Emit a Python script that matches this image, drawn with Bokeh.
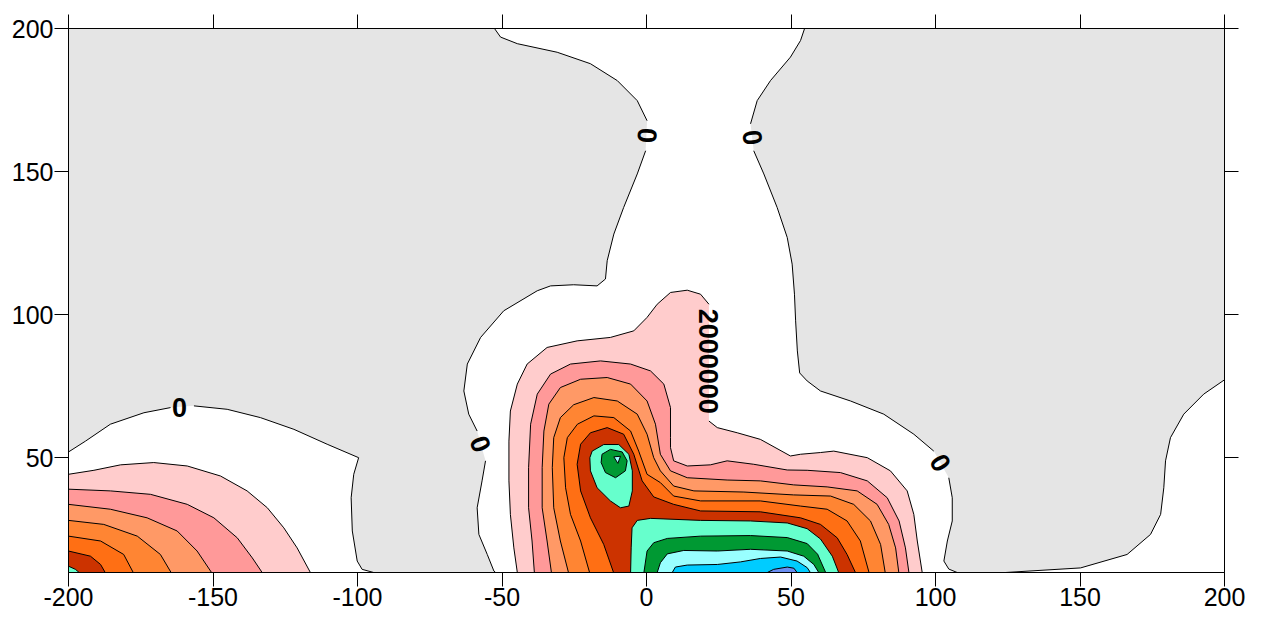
from bokeh.plotting import figure
from bokeh.models import FixedTicker, LinearAxis, Range1d
from bokeh.core.properties import value
from bokeh.embed import file_html
from bokeh.resources import INLINE

# ---------------- axes ----------------
X_TICKS = [-200, -150, -100, -50, 0, 50, 100, 150, 200]
X_TICK_LABELS = ["-200", "-150", "-100", "-50", "0", "50", "100", "150", "200"]
Y_TICKS = [50, 100, 150, 200]
Y_TICK_LABELS = ["50", "100", "150", "200"]
X_MIN, X_MAX, Y_MIN, Y_MAX = -200, 200, 10, 200

# ---------------- contour levels / colours ----------------
NEG_COLOR = "#E5E5E5"          # < 0
LEVEL_COLORS = {
    "0": "#FFFFFF",
    "2e6": "#FFCCCC",
    "4e6": "#FF9999",
    "6e6": "#FF9966",
    "8e6": "#FF8533",
    "10e6": "#FF6F14",
    "12e6": "#CC3300",
    "14e6": "#66FFCC",
    "16e6": "#009933",
    "18e6": "#99FFFF",
    "20e6": "#00CCFF",
    "22e6": "#6A8EF2",
}

# ---------------- contour curves (data units) ----------------
# level 0, left lobe (split at its label)
zero_left_a_x = [-200, -194.1, -185.5, -173.9, -164.7]
zero_left_a_y = [52.1, 55.9, 61.8, 65.8, 67.6]
zero_left_b_x = [-156.6, -145.1, -133.6, -122.0, -110.5, -99.6, -101.3, -102.2, -101.8, -100.1, -98.4, -94.4]
zero_left_b_y = [68.2, 67.0, 64.1, 60.0, 54.8, 50.1, 44.3, 36.1, 24.5, 14.0, 11.1, 10]

# level 0, centre channel, west side (top -> bottom, 3 pieces)
zero_cw_a_x = [-52.6, -50.5, -44.7, -30.9, -19.4, -10.1, -3.2, 0.2]
zero_cw_a_y = [200, 197.0, 194.7, 191.7, 187.7, 181.8, 174.8, 167.8]
zero_cw_b_x = [-0.3, -3.2, -7.9, -11.3, -13.6, -14.2, -17.1, -25.2, -33.2, -37.8, -49.4, -57.4, -62.0, -63.2, -61.5, -58.6]
zero_cw_b_y = [157.3, 149.2, 137.5, 128.2, 118.9, 112.5, 110.1, 110.5, 110.1, 108.4, 101.4, 92.1, 82.8, 73.4, 65.3, 59.4]
zero_cw_c_x = [-55.7, -56.9, -58.6, -58.0, -55.1, -52.8, -52.2]
zero_cw_c_y = [49.0, 42.0, 32.6, 23.3, 16.3, 10.5, 10]

# level 0, centre channel, east side (top -> bottom, 3 pieces)
zero_ce_a_x = [54.7, 53.3, 49.8, 42.9, 38.3, 36.0]
zero_ce_a_y = [200, 195.8, 190.0, 181.8, 174.8, 166.7]
zero_ce_b_x = [37.1, 40.6, 45.2, 48.7, 50.4, 51.2, 51.6, 52.2, 53.0, 55.6, 60.2, 70.6, 82.1, 92.5, 99.4]
zero_ce_b_y = [157.3, 149.2, 137.5, 127.0, 117.7, 107.2, 97.9, 87.4, 79.7, 76.9, 73.4, 69.9, 65.3, 58.3, 52.4]
zero_ce_c_x = [104.6, 105.8, 105.8, 104.1, 102.9, 104.6, 107.5]
zero_ce_c_y = [43.1, 36.1, 28.0, 21.0, 14.0, 11.2, 10]

# level 0, bottom-right corner
zero_right_x = [124.2, 150.2, 166.3, 174.4, 177.9, 179.0, 179.6, 181.3, 185.9, 192.8, 200]
zero_right_y = [10, 11.6, 16.3, 23.3, 30.3, 39.6, 49.0, 57.1, 65.3, 72.3, 77.3]

# left lobe, higher levels (left edge -> bottom edge)
left_2e6_x = [-200, -191.2, -182.0, -170.5, -158.9, -147.4, -138.2, -131.2, -125.5, -120.9, -116.3]
left_2e6_y = [44.3, 45.7, 47.6, 48.4, 47.2, 43.7, 38.5, 32.6, 25.6, 18.6, 10]
left_4e6_x = [-200, -185.5, -171.6, -158.9, -149.7, -141.6, -136.4, -133.0]
left_4e6_y = [39.1, 38.5, 37.3, 33.8, 29.1, 22.1, 15.1, 10]
left_6e6_x = [-200, -185.5, -172.8, -162.4, -155.5, -150.5]
left_6e6_y = [33.8, 32.1, 29.1, 24.5, 17.5, 10]
left_8e6_x = [-200, -187.8, -176.2, -168.2, -164.5]
left_8e6_y = [28.2, 26.8, 22.7, 16.3, 10]
left_10e6_x = [-200, -188.9, -180.9, -177.6]
left_10e6_y = [22.7, 21.0, 16.3, 10]
left_12e6_x = [-200, -192.4, -188.9, -187.3]
left_12e6_y = [17.5, 15.7, 12.8, 10]
left_14e6_x = [-200, -197.6, -196.3]
left_14e6_y = [12.2, 11.1, 10]

# centre lobe (bottom -> over -> bottom)
cen_2e6_a_x = [-44.7, -45.9, -47.1, -47.6, -47.6, -47.1, -44.7, -41.3, -34.4, -24.0, -12.5, -4.4, 0.2, 3.7, 8.3, 14.1, 18.7, 21.6]
cen_2e6_a_y = [10, 18.6, 30.3, 42.0, 55.9, 66.4, 75.8, 82.8, 88.6, 90.9, 92.1, 94.4, 99.1, 103.7, 107.8, 108.6, 107.2, 103.7]
cen_2e6_b_x = [21.6, 24.5, 31.4, 39.4, 49.8, 53.3, 60.2, 64.8, 76.4, 84.4, 90.2, 92.5, 93.7, 95.4]
cen_2e6_b_y = [62.9, 60.6, 58.8, 56.5, 50.7, 51.3, 51.9, 52.4, 50.1, 45.5, 38.5, 30.3, 21.0, 10]
cen_4e6_x = [-38.8, -39.6, -40.8, -40.8, -40.1, -37.8, -33.2, -26.3, -15.9, -5.5, 1.4, 6.0, 8.3, 8.3, 8.3, 9.4, 14.1, 22.1, 27.9, 37.1, 48.7, 55.6, 67.1, 76.4, 83.3, 87.4, 89.6, 90.8]
cen_4e6_y = [10, 21.0, 32.6, 46.6, 61.8, 72.3, 79.3, 82.8, 83.9, 82.8, 80.4, 75.8, 67.6, 57.1, 53.6, 49.0, 47.2, 47.6, 49.0, 47.8, 45.8, 45.7, 44.9, 42.0, 36.1, 28.0, 18.6, 10]
cen_6e6_x = [-32.9, -34.4, -36.1, -36.1, -35.5, -33.8, -29.8, -22.8, -13.6, -5.5, 0.2, 3.1, 4.8, 8.3, 14.1, 27.9, 39.4, 50.9, 62.5, 72.9, 79.8, 83.8, 86.2, 87.3]
cen_6e6_y = [10, 21.0, 32.6, 46.6, 59.4, 68.8, 74.6, 77.5, 78.1, 75.8, 69.9, 61.8, 51.3, 45.5, 43.1, 42.3, 42.0, 40.6, 39.9, 38.5, 33.8, 26.8, 18.6, 10]
cen_8e6_x = [-27.0, -29.8, -32.1, -32.6, -32.1, -29.8, -25.2, -18.2, -10.1, -3.2, 0.2, 2.5, 4.8, 9.4, 16.4, 33.7, 50.9, 63.7, 71.7, 77.5, 81.0, 82.6]
cen_8e6_y = [10, 21.0, 32.6, 46.6, 57.1, 64.1, 68.6, 71.1, 69.9, 65.3, 58.3, 50.1, 45.5, 40.2, 38.5, 38.1, 37.1, 36.7, 33.8, 28.0, 19.8, 10]
cen_10e6_x = [-19.7, -22.8, -26.3, -28.0, -28.6, -27.4, -23.9, -18.2, -11.3, -5.5, -2.7, 0.2, 4.8, 9.4, 18.7, 39.4, 53.3, 62.5, 69.4, 74.0, 77.0]
cen_10e6_y = [10, 21.0, 30.3, 39.6, 50.1, 57.1, 61.8, 64.7, 64.1, 59.4, 52.4, 44.3, 41.4, 36.7, 35.0, 35.0, 33.2, 32.1, 28.0, 21.0, 10]
cen_12e6_x = [-11.4, -14.8, -19.4, -22.8, -24.0, -22.8, -19.4, -13.6, -7.9, -4.4, -1.5, 2.5, 9.4, 18.7, 39.4, 53.3, 60.2, 66.0, 69.4, 72.3]
cen_12e6_y = [10, 19.8, 29.1, 38.5, 47.8, 54.8, 58.8, 60.6, 58.3, 51.3, 42.0, 36.4, 33.8, 31.5, 31.2, 29.1, 26.8, 22.1, 16.3, 10]
cen_14e6_x = [-5.5, -5.3, -5.0, -3.2, 1.4, 18.7, 36.0, 48.7, 55.6, 60.2, 64.3, 66.5]
cen_14e6_y = [10, 18.6, 25.6, 28.2, 28.9, 28.2, 28.0, 27.3, 25.3, 21.7, 15.7, 10]
cen_16e6_x = [-0.9, 0.2, 2.5, 7.2, 18.7, 36.0, 48.7, 55.6, 59.2, 62.0]
cen_16e6_y = [10, 17.5, 20.4, 21.9, 22.7, 22.9, 22.2, 20.1, 16.4, 10]
cen_18e6_x = [3.7, 4.8, 7.2, 12.9, 24.5, 36.0, 48.7, 54.4, 57.9, 59.6]
cen_18e6_y = [10, 13.4, 16.5, 17.7, 17.5, 18.1, 17.5, 15.7, 12.8, 10]
cen_20e6_x = [8.9, 10.0, 14.1, 24.5, 32.5, 39.4, 46.4, 52.1, 55.6, 56.7]
cen_20e6_y = [10, 11.9, 12.6, 12.8, 13.7, 14.9, 15.4, 14.0, 11.7, 10]
cen_22e6_x = [41.8, 44.0, 48.7, 51.0, 52.1]
cen_22e6_y = [10, 11.1, 11.9, 11.5, 10]

# closed island around the secondary maximum
isl_14e6_x = [-18.8, -14.8, -9.6, -6.1, -4.9, -4.9, -6.1, -9.0, -12.5, -17.1, -19.4, -19.6]
isl_14e6_y = [52.4, 54.7, 54.7, 51.3, 45.5, 38.5, 33.2, 32.6, 35.0, 39.6, 45.5, 50.1]
isl_16e6_x = [-15.4, -12.5, -8.4, -6.7, -7.3, -10.7, -14.2, -15.7]
isl_16e6_y = [51.3, 53.0, 52.1, 49.0, 45.5, 43.1, 44.9, 48.4]
isl_18e6_x = [-11.3, -9.0, -9.9]
isl_18e6_y = [50.4, 50.6, 48.1]

# contour labels
label_text = ["0", "0", "0", "0", "0", "2000000"]
label_x = [-161.6, -57.4, 0.3, 36.7, 101.7, 21.4]
label_y = [67.8, 54.9, 162.6, 161.9, 48.3, 83.8]
label_angle = [0, -70, -93, -83, -60, -90]

# ---------------- figure ----------------
p = figure(frame_width=1156, frame_height=544,
           x_range=Range1d(X_MIN, X_MAX), y_range=Range1d(Y_MIN, Y_MAX),
           output_backend="svg", toolbar_location=None,
           x_axis_location=None, y_axis_location=None,
           min_border_left=68, min_border_right=30, min_border_top=28, min_border_bottom=40)
p.background_fill_color = NEG_COLOR
p.border_fill_color = "white"
p.outline_line_color = "black"
p.outline_line_width = 1
p.grid.visible = False


def make_axis(ticks, labels, show):
    ax = LinearAxis(ticker=FixedTicker(ticks=ticks, minor_ticks=[]))
    ax.major_tick_out = 14
    ax.major_tick_in = 0
    ax.minor_tick_out = 0
    ax.minor_tick_in = 0
    ax.axis_line_color = "black"
    ax.major_tick_line_color = "black"
    ax.major_label_text_font = "Liberation Sans"
    ax.major_label_text_font_size = "25px"
    ax.major_label_text_color = "black"
    if show:
        ax.major_label_overrides = {t: s for t, s in zip(ticks, labels)}
        ax.major_label_standoff = 1
    else:
        ax.major_label_overrides = {t: "" for t in ticks}
        ax.major_label_standoff = 0
    return ax


p.add_layout(make_axis(X_TICKS, X_TICK_LABELS, True), "below")
p.add_layout(make_axis(Y_TICKS, Y_TICK_LABELS, True), "left")
p.add_layout(make_axis(X_TICKS, X_TICK_LABELS, False), "above")
p.add_layout(make_axis(Y_TICKS, Y_TICK_LABELS, False), "right")

# ---------------- fills (painted from lowest to highest level) ----------------
fills = []
# level 0 (white) regions
fills.append((zero_left_a_x + zero_left_b_x + [X_MIN], zero_left_a_y + zero_left_b_y + [Y_MIN], LEVEL_COLORS["0"]))
cw_x = zero_cw_a_x + zero_cw_b_x + zero_cw_c_x
cw_y = zero_cw_a_y + zero_cw_b_y + zero_cw_c_y
ce_x = zero_ce_a_x + zero_ce_b_x + zero_ce_c_x
ce_y = zero_ce_a_y + zero_ce_b_y + zero_ce_c_y
fills.append((cw_x + ce_x[::-1], cw_y + ce_y[::-1], LEVEL_COLORS["0"]))
fills.append((zero_right_x + [X_MAX], zero_right_y + [Y_MIN], LEVEL_COLORS["0"]))

left_levels = [("2e6", left_2e6_x, left_2e6_y), ("4e6", left_4e6_x, left_4e6_y),
               ("6e6", left_6e6_x, left_6e6_y), ("8e6", left_8e6_x, left_8e6_y),
               ("10e6", left_10e6_x, left_10e6_y), ("12e6", left_12e6_x, left_12e6_y),
               ("14e6", left_14e6_x, left_14e6_y)]
cen_levels = [("2e6", cen_2e6_a_x + cen_2e6_b_x, cen_2e6_a_y + cen_2e6_b_y),
              ("4e6", cen_4e6_x, cen_4e6_y), ("6e6", cen_6e6_x, cen_6e6_y),
              ("8e6", cen_8e6_x, cen_8e6_y), ("10e6", cen_10e6_x, cen_10e6_y),
              ("12e6", cen_12e6_x, cen_12e6_y), ("14e6", cen_14e6_x, cen_14e6_y),
              ("16e6", cen_16e6_x, cen_16e6_y), ("18e6", cen_18e6_x, cen_18e6_y),
              ("20e6", cen_20e6_x, cen_20e6_y), ("22e6", cen_22e6_x, cen_22e6_y)]
for lev, xs, ys in left_levels:
    fills.append((xs + [X_MIN], ys + [Y_MIN], LEVEL_COLORS[lev]))
for lev, xs, ys in cen_levels:
    fills.append((xs, ys, LEVEL_COLORS[lev]))
for lev, xs, ys in [("14e6", isl_14e6_x, isl_14e6_y), ("16e6", isl_16e6_x, isl_16e6_y),
                    ("18e6", isl_18e6_x, isl_18e6_y)]:
    fills.append((xs, ys, LEVEL_COLORS[lev]))

p.patches(xs=[f[0] for f in fills], ys=[f[1] for f in fills],
          fill_color=[f[2] for f in fills], line_color=None)

# ---------------- contour lines ----------------
line_x = [zero_left_a_x, zero_left_b_x, zero_cw_a_x, zero_cw_b_x, zero_cw_c_x,
          zero_ce_a_x, zero_ce_b_x, zero_ce_c_x, zero_right_x,
          cen_2e6_a_x, cen_2e6_b_x]
line_y = [zero_left_a_y, zero_left_b_y, zero_cw_a_y, zero_cw_b_y, zero_cw_c_y,
          zero_ce_a_y, zero_ce_b_y, zero_ce_c_y, zero_right_y,
          cen_2e6_a_y, cen_2e6_b_y]
for lev, xs, ys in left_levels:
    line_x.append(xs)
    line_y.append(ys)
for lev, xs, ys in cen_levels[1:]:
    line_x.append(xs)
    line_y.append(ys)
for xs, ys in [(isl_14e6_x, isl_14e6_y), (isl_16e6_x, isl_16e6_y), (isl_18e6_x, isl_18e6_y)]:
    line_x.append(xs + xs[:1])
    line_y.append(ys + ys[:1])

p.multi_line(xs=line_x, ys=line_y, line_color="black", line_width=1)

# ---------------- labels ----------------
p.text(x=label_x, y=label_y, text=label_text, angle=label_angle, angle_units="deg",
       text_font=value("Liberation Sans"), text_font_size="27px", text_font_style="bold",
       text_align="center", text_baseline="middle", text_color="black")

open("out.html", "w").write(file_html(p, INLINE))
